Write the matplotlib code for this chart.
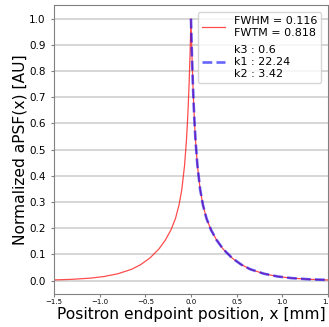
import matplotlib
matplotlib.use('Agg')
import matplotlib.pyplot as plt

# aPSF profile (symmetric about x = 0)
x_pos = [0.0, 0.01, 0.02, 0.03, 0.04, 0.05, 0.07, 0.10, 0.13, 0.17, 0.22, 0.28,
         0.35, 0.45, 0.55, 0.65, 0.80, 0.95, 1.10, 1.30, 1.50]
y_pos = [1.0, 0.867, 0.758, 0.669, 0.595, 0.534, 0.441, 0.349, 0.290, 0.237, 0.193, 0.155,
         0.121, 0.086, 0.061, 0.043, 0.026, 0.0155, 0.0093, 0.0047, 0.0024]

x_full = [-v for v in x_pos[::-1]] + x_pos[1:]
y_full = y_pos[::-1] + y_pos[1:]

fwhm_label = 'FWHM = 0.116\nFWTM = 0.818'
fit_label = 'k3 : 0.6\nk1 : 22.24\nk2 : 3.42'

fig = plt.figure(figsize=(3.29, 3.27), dpi=100)
ax = fig.add_axes([0.164, 0.102, 0.833, 0.883])

ax.plot(x_full, y_full, color='red', alpha=0.7, lw=0.9, label=fwhm_label)
ax.plot(x_pos, y_pos, color='blue', alpha=0.6, lw=1.9, ls='--', label=fit_label)

ax.set_xlim(-1.5, 1.5)
ax.set_ylim(-0.05, 1.053)
ax.set_yticks([i / 10 for i in range(11)])
ax.set_xticks([-1.5, -1.0, -0.5, 0.0, 0.5, 1.0, 1.5])
ax.tick_params(axis='y', labelsize=7.5, length=2.5, color='gray')
ax.tick_params(axis='x', labelsize=5, length=2.5, color='gray', pad=1.5)
ax.yaxis.grid(True, color='lightgray', lw=1.3)
ax.set_axisbelow(True)
for s in ax.spines.values():
    s.set_color('gray')

ax.set_xlabel('Positron endpoint position, x [mm]', fontsize=11.2, labelpad=1)
ax.set_ylabel('Normalized aPSF(x) [AU]', fontsize=11.2, labelpad=1.5)

ax.legend(loc='upper right', fontsize=8, labelspacing=0.7, borderaxespad=0.6)

fig.savefig('out.png', dpi=100)
